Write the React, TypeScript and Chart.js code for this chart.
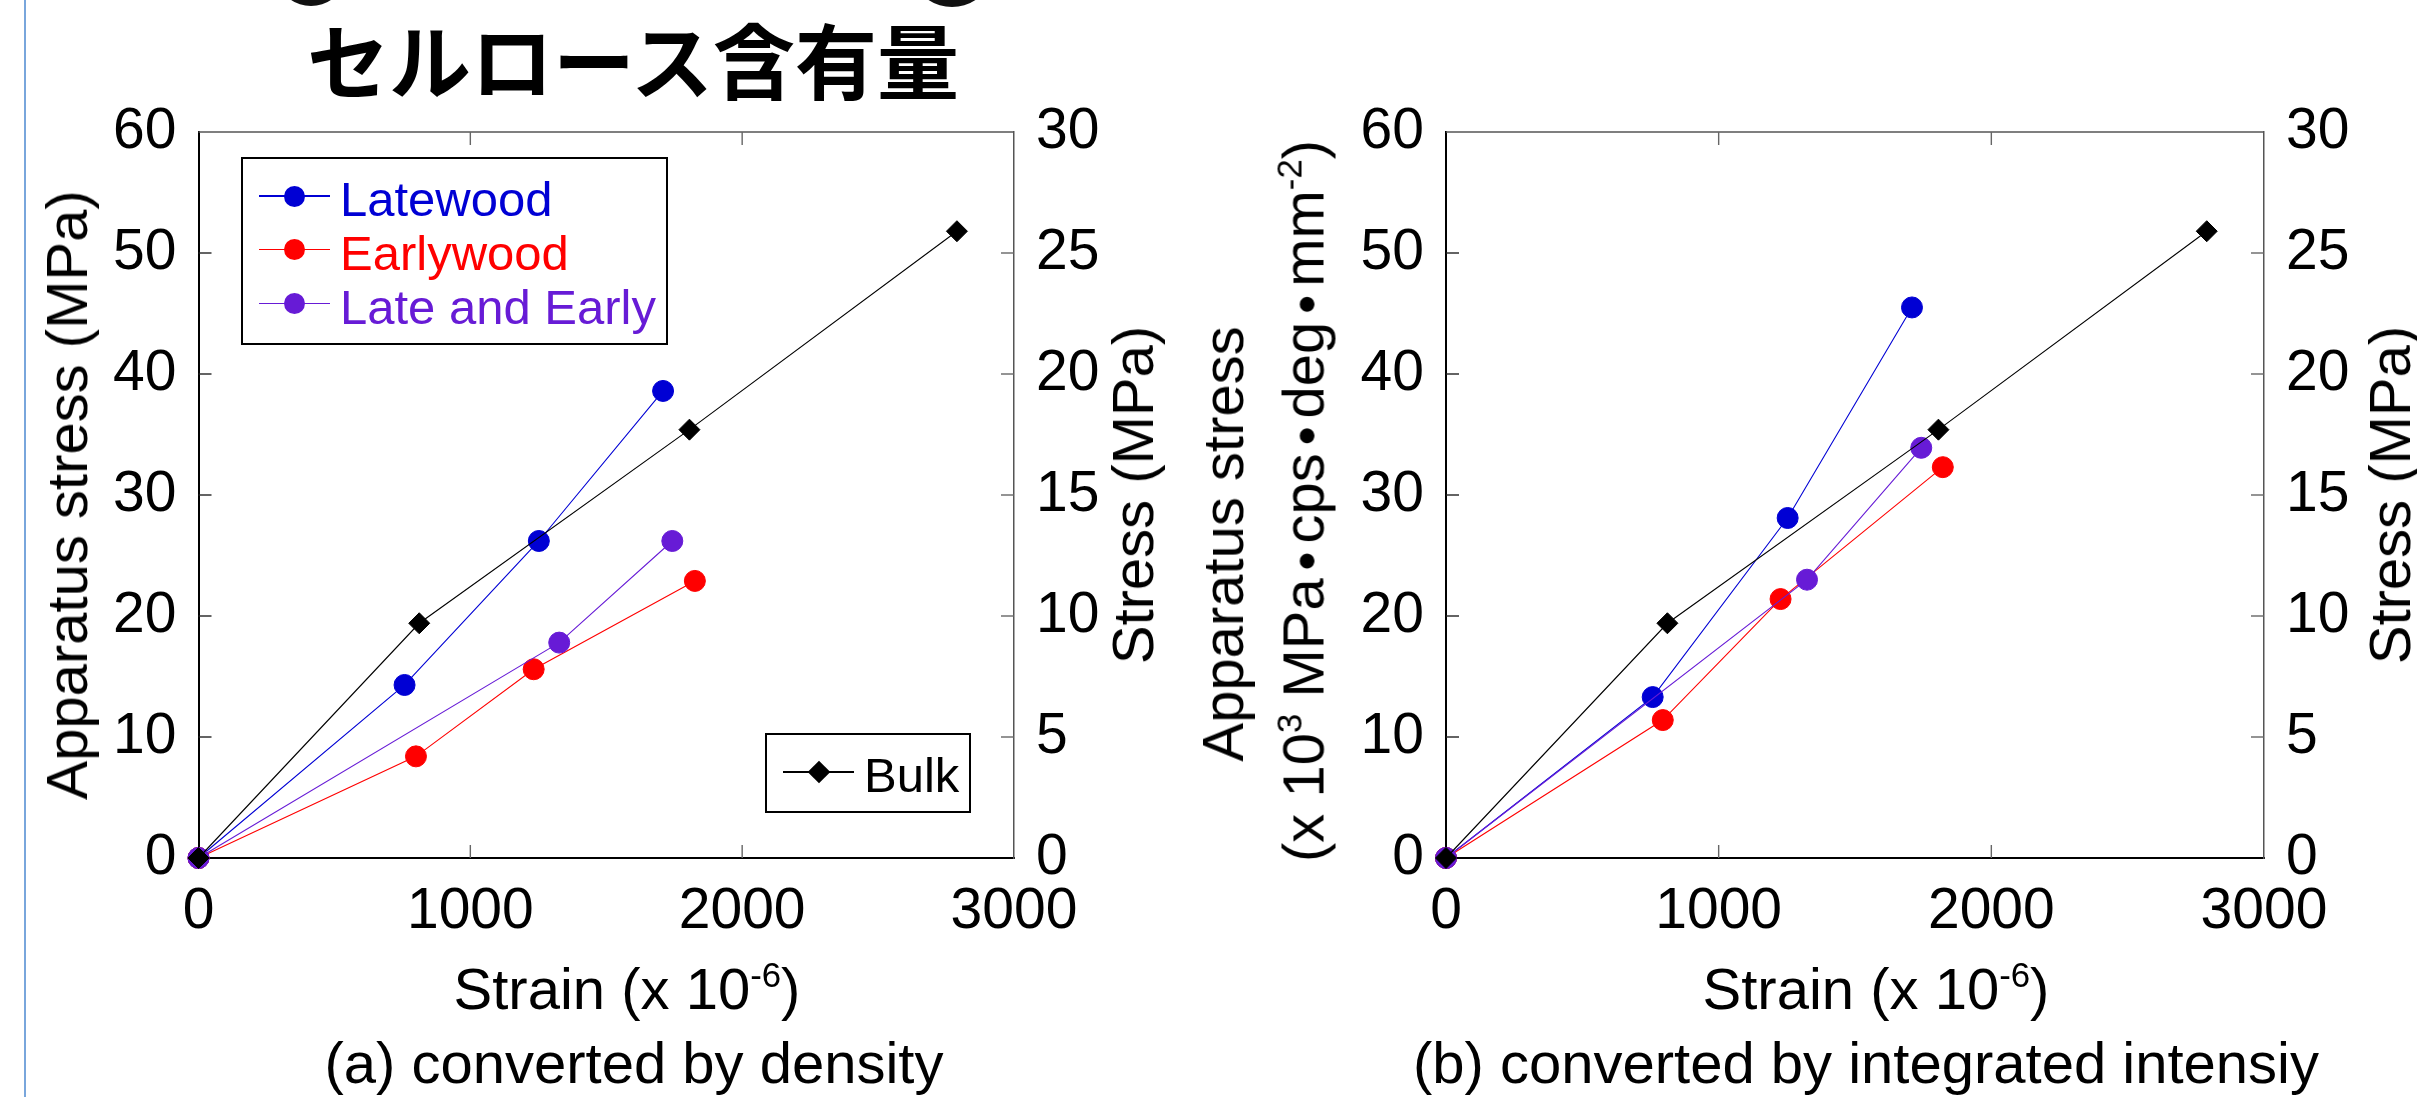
import React, { useEffect, useRef } from "react";
import { Chart, registerables } from "chart.js";

Chart.register(...registerables);

// ---------------- data ----------------
const xTickValues = [0, 1000, 2000, 3000];
const leftTickValues = [0, 10, 20, 30, 40, 50, 60];
const rightTickValues = [0, 5, 10, 15, 20, 25, 30];

const seriesNames = ["Latewood", "Earlywood", "Late and Early", "Bulk"];
const seriesColors = ["#0000d4", "#ff0000", "#671bd6", "#000000"];

// (a) converted by density
const strainLatewoodA = [0, 758, 1252, 1709];
const stressLatewoodA = [0, 14.3, 26.2, 38.6];
const strainEarlywoodA = [0, 800, 1233, 1826];
const stressEarlywoodA = [0, 8.4, 15.6, 22.9];
const strainLateEarlyA = [0, 1327, 1743];
const stressLateEarlyA = [0, 17.8, 26.2];

// bulk (same in both panels)
const strainBulk = [0, 812, 1806, 2790];
const stressBulk = [0, 19.4, 35.4, 51.8];

// (b) converted by integrated intensity
const strainLatewoodB = [0, 758, 1253, 1709];
const stressLatewoodB = [0, 13.3, 28.1, 45.5];
const strainEarlywoodB = [0, 795, 1227, 1822];
const stressEarlywoodB = [0, 11.4, 21.4, 32.3];
const strainLateEarlyB = [0, 1324, 1743];
const stressLateEarlyB = [0, 23.0, 33.9];

const FONT = "'Liberation Sans', Arial, Helvetica, sans-serif";
const CJK = "'Noto Sans CJK JP', 'Noto Sans CJK SC', sans-serif";
const H = 1097;

const toPts = (xs: number[], ys: number[]) => xs.map((x, i) => ({ x, y: ys[i] }));

function makeDatasets(
  late: [number[], number[]],
  early: [number[], number[]],
  mix: [number[], number[]]
) {
  const common = {
    showLine: true,
    borderWidth: 1.1,
    tension: 0,
    clip: false as any,
    pointBorderWidth: 1,
  };
  const mk = (i: number, xs: number[], ys: number[], style: string, order: number) => ({
    ...common,
    label: seriesNames[i],
    data: toPts(xs, ys),
    borderColor: seriesColors[i],
    backgroundColor: seriesColors[i],
    pointBackgroundColor: seriesColors[i],
    pointBorderColor: seriesColors[i],
    pointRadius: style === "rectRot" ? 10.5 : 10.5,
    pointStyle: style,
    order,
  });
  return [
    mk(0, late[0], late[1], "circle", 3),
    mk(1, early[0], early[1], "circle", 2),
    mk(2, mix[0], mix[1], "circle", 1),
    mk(3, strainBulk, stressBulk, "rectRot", 0),
  ];
}

const frameTicks = {
  id: "frameTicks",
  beforeDatasetsDraw(chart: any) {
    const { ctx, chartArea } = chart;
    const { left, right, top, bottom } = chartArea;
    const L = 13;
    const sx = chart.scales.x;
    const sy = chart.scales.y;
    const sy2 = chart.scales.y2;
    ctx.save();
    ctx.lineWidth = 1.5;
    ctx.strokeStyle = "#555";
    ctx.beginPath();
    ctx.moveTo(left, top);
    ctx.lineTo(right, top);
    ctx.stroke();
    ctx.lineWidth = 1.4;
    for (const t of sx.ticks) {
      if (t.value <= sx.min || t.value >= sx.max) continue;
      const p = sx.getPixelForValue(t.value);
      ctx.strokeStyle = "#666";
      ctx.beginPath();
      ctx.moveTo(p, bottom);
      ctx.lineTo(p, bottom - L);
      ctx.moveTo(p, top);
      ctx.lineTo(p, top + L);
      ctx.stroke();
    }
    for (const t of sy.ticks) {
      if (t.value <= sy.min || t.value >= sy.max) continue;
      const p = sy.getPixelForValue(t.value);
      ctx.strokeStyle = "#222";
      ctx.beginPath();
      ctx.moveTo(left, p);
      ctx.lineTo(left + L, p);
      ctx.stroke();
    }
    for (const t of sy2.ticks) {
      if (t.value <= sy2.min || t.value >= sy2.max) continue;
      const p = sy2.getPixelForValue(t.value);
      ctx.strokeStyle = "#666";
      ctx.beginPath();
      ctx.moveTo(right, p);
      ctx.lineTo(right - L, p);
      ctx.stroke();
    }
    ctx.restore();
  },
};

function buildConfig(datasets: any[], leftW: number, rightW: number, xH: number, padTop: number) {
  const tickFont = { family: FONT, size: 57 };
  const axisCommon = {
    grid: { display: false, drawTicks: false },
  };
  return {
    type: "scatter" as const,
    data: { datasets },
    options: {
      responsive: false,
      maintainAspectRatio: false,
      animation: false as const,
      layout: { padding: { top: padTop, left: 0, right: 0, bottom: 0 } },
      plugins: {
        legend: { display: false },
        tooltip: { enabled: false },
        title: { display: false },
      },
      scales: {
        x: {
          ...axisCommon,
          type: "linear" as const,
          position: "bottom" as const,
          min: 0,
          max: 3000,
          afterBuildTicks: (s: any) => {
            s.ticks = xTickValues.map((value) => ({ value }));
          },
          ticks: {
            font: tickFont,
            color: "#000",
            padding: 20,
            maxRotation: 0,
            autoSkip: false,
            callback: (v: any) => String(v),
          },
          border: { display: true, color: "#000", width: 2 },
          afterFit: (s: any) => {
            s.height = xH;
          },
        },
        y: {
          ...axisCommon,
          type: "linear" as const,
          position: "left" as const,
          min: 0,
          max: 60,
          afterBuildTicks: (s: any) => {
            s.ticks = leftTickValues.map((value) => ({ value }));
          },
          ticks: {
            font: tickFont,
            color: "#000",
            padding: 22,
            autoSkip: false,
            callback: (v: any) => String(v),
          },
          border: { display: true, color: "#000", width: 2 },
          afterFit: (s: any) => {
            s.width = leftW;
          },
        },
        y2: {
          ...axisCommon,
          type: "linear" as const,
          position: "right" as const,
          min: 0,
          max: 30,
          afterBuildTicks: (s: any) => {
            s.ticks = rightTickValues.map((value) => ({ value }));
          },
          ticks: {
            font: tickFont,
            color: "#000",
            padding: 22,
            autoSkip: false,
            callback: (v: any) => String(v),
          },
          border: { display: true, color: "#555", width: 1.5 },
          afterFit: (s: any) => {
            s.width = rightW;
          },
        },
      },
    },
    plugins: [frameTicks],
  };
}

function Panel(props: {
  left: number;
  width: number;
  plotLeft: number;
  plotRight: number;
  datasets: any[];
}) {
  const ref = useRef<HTMLCanvasElement>(null);
  useEffect(() => {
    const cfg = buildConfig(
      props.datasets,
      props.plotLeft - props.left,
      props.left + props.width - props.plotRight,
      H - 858,
      132
    );
    const chart = new Chart(ref.current as HTMLCanvasElement, cfg as any);
    return () => chart.destroy();
  }, []);
  return (
    <canvas
      ref={ref}
      width={props.width}
      height={H}
      style={{ position: "absolute", left: props.left, top: 0, width: props.width, height: H }}
    />
  );
}

function T(props: {
  x: number;
  y: number;
  size: number;
  rotate?: number;
  family?: string;
  weight?: number;
  color?: string;
  children: any;
}) {
  const rot = props.rotate ? ` rotate(${props.rotate}deg)` : "";
  return (
    <div
      style={{
        position: "absolute",
        left: props.x,
        top: props.y,
        transform: `translate(-50%, -50%)${rot}`,
        fontSize: props.size,
        fontWeight: props.weight || 400,
        lineHeight: 1,
        whiteSpace: "nowrap",
        fontFamily: props.family || FONT,
        color: props.color || "#000",
      }}
    >
      {props.children}
    </div>
  );
}

const Sup = (p: { children: any }) => (
  <span style={{ fontSize: "0.6em", verticalAlign: "0.62em", lineHeight: 0 }}>{p.children}</span>
);
const Dot = () => (
  <span
    style={{
      fontFamily: CJK,
      fontWeight: 700,
      margin: "0 -0.2em",
      position: "relative",
      top: "0.1em",
    }}
  >
    {"\u30FB"}
  </span>
);

function LegendRow(p: { y: number; color: string; label: string; diamond?: boolean }) {
  return (
    <>
      <div
        style={{
          position: "absolute",
          left: 16,
          width: 71,
          top: p.y - 0.7,
          height: 1.4,
          background: p.color,
        }}
      />
      {p.diamond ? (
        <div
          style={{
            position: "absolute",
            left: 51.5 - 8,
            top: p.y - 8,
            width: 16,
            height: 16,
            background: p.color,
            transform: "rotate(45deg)",
          }}
        />
      ) : (
        <div
          style={{
            position: "absolute",
            left: 51.5 - 10.5,
            top: p.y - 10.5,
            width: 21,
            height: 21,
            borderRadius: "50%",
            background: p.color,
          }}
        />
      )}
      <div
        style={{
          position: "absolute",
          left: 97,
          top: p.y + 3,
          transform: "translateY(-50%)",
          fontFamily: FONT,
          fontSize: 49,
          lineHeight: 1,
          whiteSpace: "nowrap",
          color: p.color,
        }}
      >
        {p.label}
      </div>
    </>
  );
}

export default function App() {
  const dsA = makeDatasets(
    [strainLatewoodA, stressLatewoodA],
    [strainEarlywoodA, stressEarlywoodA],
    [strainLateEarlyA, stressLateEarlyA]
  );
  const dsB = makeDatasets(
    [strainLatewoodB, stressLatewoodB],
    [strainEarlywoodB, stressEarlywoodB],
    [strainLateEarlyB, stressLateEarlyB]
  );
  return (
    <div
      style={{
        position: "fixed",
        left: 0,
        top: 0,
        width: 2417,
        height: H,
        background: "#fff",
        overflow: "hidden",
      }}
    >
      {/* slide edge line */}
      <div style={{ position: "absolute", left: 24, top: 0, width: 2, height: H, background: "#79a6dc" }} />
      {/* cut-off shapes from the line above */}
      <div
        style={{
          position: "absolute",
          left: 282,
          top: -38,
          width: 58,
          height: 44,
          borderRadius: "50%",
          background: "#111",
        }}
      />
      <div
        style={{
          position: "absolute",
          left: 920,
          top: -37,
          width: 64,
          height: 44,
          borderRadius: "50%",
          background: "#111",
        }}
      />

      <Panel left={0} width={1210} plotLeft={198.5} plotRight={1014} datasets={dsA} />
      <Panel left={1210} width={1207} plotLeft={1446} plotRight={2264} datasets={dsB} />

      {/* title */}
      <T x={633} y={58} size={82} weight={700} family={CJK}>
        セルロース含有量
      </T>

      {/* panel (a) texts */}
      <T x={67} y={495} size={58} rotate={-90}>
        Apparatus stress (MPa)
      </T>
      <T x={1133} y={495} size={58} rotate={-90}>
        Stress (MPa)
      </T>
      <T x={627} y={989} size={58}>
        Strain (x 10<Sup>-6</Sup>)
      </T>
      <T x={634} y={1063} size={58}>
        (a) converted by density
      </T>

      {/* panel (b) texts */}
      <T x={1223} y={544} size={58} rotate={-90}>
        Apparatus stress
      </T>
      <T x={1301} y={501} size={58} rotate={-90}>
        (x 10<Sup>3</Sup> MPa<Dot />cps<Dot />deg<Dot />mm<Sup>-2</Sup>)
      </T>
      <T x={2390} y={495} size={58} rotate={-90}>
        Stress (MPa)
      </T>
      <T x={1876} y={989} size={58}>
        Strain (x 10<Sup>-6</Sup>)
      </T>
      <T x={1866} y={1063} size={58}>
        (b) converted by integrated intensiy
      </T>

      {/* legend (a) */}
      <div
        style={{
          position: "absolute",
          left: 241,
          top: 157,
          width: 427,
          height: 188,
          boxSizing: "border-box",
          border: "2px solid #000",
          background: "#fff",
        }}
      >
        <LegendRow y={37} color={seriesColors[0]} label={seriesNames[0]} />
        <LegendRow y={90.5} color={seriesColors[1]} label={seriesNames[1]} />
        <LegendRow y={144.5} color={seriesColors[2]} label={seriesNames[2]} />
      </div>
      <div
        style={{
          position: "absolute",
          left: 765,
          top: 733,
          width: 206,
          height: 80,
          boxSizing: "border-box",
          border: "2px solid #000",
          background: "#fff",
        }}
      >
        <LegendRow y={37} color={seriesColors[3]} label={seriesNames[3]} diamond />
      </div>
    </div>
  );
}
